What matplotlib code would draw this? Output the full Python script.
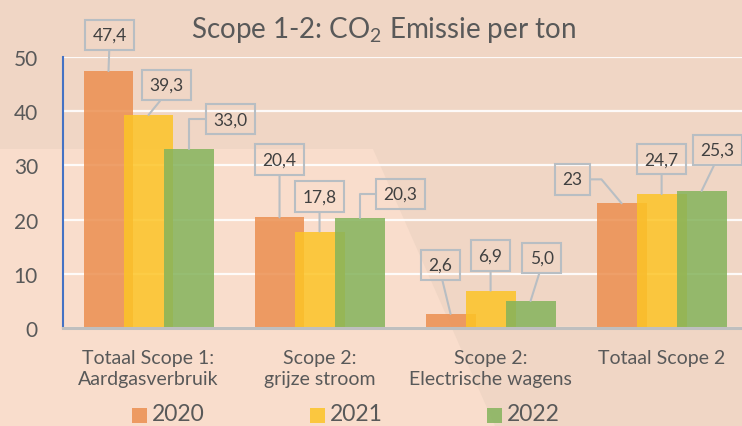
import numpy as np
import matplotlib.pyplot as plt
from matplotlib.patches import Polygon, Rectangle

plt.rcParams['font.family'] = ['Lato', 'DejaVu Sans']
plt.rcParams['mathtext.fontset'] = 'custom'
plt.rcParams['mathtext.rm'] = 'Lato'
plt.rcParams['mathtext.it'] = 'Lato:italic'

categories = ['Totaal Scope 1:\nAardgasverbruik', 'Scope 2:\ngrijze stroom',
              'Scope 2:\nElectrische wagens', 'Totaal Scope 2']
years = ['2020', '2021', '2022']
v2020 = [47.4, 20.4, 2.6, 23]
v2021 = [39.3, 17.8, 6.9, 24.7]
v2022 = [33.0, 20.3, 5.0, 25.3]
series = [v2020, v2021, v2022]

colors = ['#EC8F50', '#FCC426', '#84B35B']
grey_txt = '#595959'
box_col = '#B8BEC3'

# label box offsets (pixels from bar top) and leader style
offsets = [[(1, 36), (0, 58), (-10, 49), (-49, 24)],
           [(18, 30), (0, 35), (0, 35), (0, 35)],
           [(42, 30), (41, 24), (11, 43), (16, 41)]]
bottom_lead = dict(relpos=(0.5, 0), connectionstyle='arc3')
left_elbow = dict(relpos=(0, 0.5), connectionstyle='angle,angleA=0,angleB=90,rad=0')
right_bend = dict(relpos=(1, 0.5), connectionstyle='angle,angleA=0,angleB=130,rad=0')
leaders = [[bottom_lead, bottom_lead, bottom_lead, right_bend],
           [bottom_lead, bottom_lead, bottom_lead, bottom_lead],
           [left_elbow, left_elbow, bottom_lead, bottom_lead]]

W, H = 742, 427
fig = plt.figure(figsize=(W / 100, H / 100), dpi=100, facecolor='#F9DDCC')

# slide background shape
pts = [(0, 0), (W, 0), (W, H), (495, H), (373, 150), (0, 150)]
fig.patches.append(Polygon([(x / W, 1 - y / H) for x, y in pts], closed=True,
                           transform=fig.transFigure, facecolor='#F0D6C5',
                           edgecolor='none', zorder=-1))

ax = fig.add_axes([63 / W, 98 / H, (W - 63) / W, 271 / H])
ax.set_facecolor('none')

x = np.arange(len(categories))
width = 0.292
shift = 0.234
for s, (vals, c) in enumerate(zip(series, colors)):
    xs = x + (s - 1) * shift
    ax.bar(xs, vals, width=width, color=c, alpha=0.85, zorder=2)
    for i, v in enumerate(vals):
        lab = f"{v:.1f}".replace('.', ',')
        if s == 0 and i == 3:
            lab = '23'
        ax.annotate(lab, xy=(xs[i], v), xytext=offsets[s][i], textcoords='offset pixels',
                    ha='center', va='center', fontsize=12.5, color='#404040', zorder=4,
                    bbox=dict(boxstyle='square,pad=0.42', fc='none', ec=box_col, lw=1.5),
                    arrowprops=dict(arrowstyle='-', color=box_col, lw=1.5,
                                    shrinkA=0, shrinkB=0, **leaders[s][i]))

ax.set_xlim(-0.5, 3.47)
ax.set_ylim(0, 50)
ax.set_yticks(range(0, 51, 10))
ax.set_xticks(x)
ax.set_xticklabels(categories, fontsize=14, color=grey_txt, linespacing=1.3)
ax.tick_params(axis='y', length=0, pad=18, labelsize=15, labelcolor=grey_txt)
ax.tick_params(axis='x', length=0, pad=15)
ax.yaxis.grid(True, color='white', lw=1.6, alpha=0.9, zorder=1)
ax.set_axisbelow(True)
for side in ['top', 'right']:
    ax.spines[side].set_visible(False)
ax.spines['left'].set_color('#4472C4')
ax.spines['left'].set_linewidth(1.5)
ax.spines['bottom'].set_color('#BFBFBF')
ax.spines['bottom'].set_linewidth(2.2)

fig.text(383 / W, 389 / H, r'Scope 1-2: CO$_2$ Emissie per ton', ha='center',
         va='baseline', fontsize=20, color=grey_txt)

# legend
for j, (yr, c) in enumerate(zip(years, colors)):
    x0 = 132 + 177.5 * j
    fig.patches.append(Rectangle((x0 / W, 3 / H), 15 / W, 15 / H, transform=fig.transFigure,
                                 facecolor=c, alpha=0.85, edgecolor='none'))
    fig.text((x0 + 20) / W, 6 / H, yr, fontsize=16.5, va='baseline', color=grey_txt)

fig.savefig('out.png', dpi=100, facecolor=fig.get_facecolor())
